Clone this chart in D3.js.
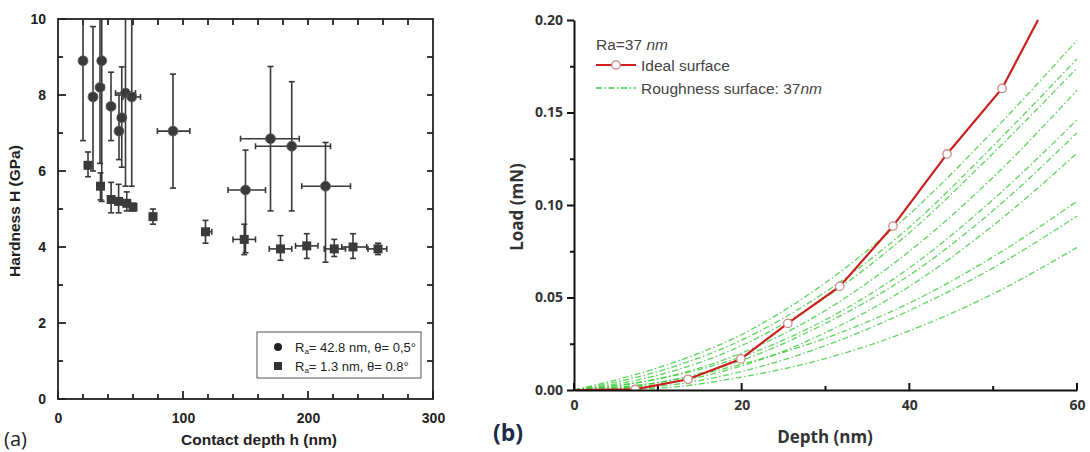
<!DOCTYPE html>
<html lang="en">
<head>
<meta charset="UTF-8">
<title>Hardness and load-depth charts</title>
<script src="https://d3js.org/d3.v7.min.js"></script>
<style>
  body { margin: 0; background: #fff; }
  svg { display: block; }
  .axA text { font-family: "Liberation Sans", Arial, sans-serif; font-weight: bold; font-size: 14px; fill: #222; }
  .axB path, .axB line { stroke: #111; stroke-width: 2; }
  .axB text { font-family: "Open Sans", sans-serif; font-weight: bold; font-size: 14px; fill: #333; }
</style>
</head>
<body>
<svg id="fig" width="1090" height="452"></svg>
<script>
// ---- panel (a): hardness vs contact depth ----
var roughDepth  = [20, 28, 33.6, 35, 42.4, 48.8, 51, 54, 59, 92, 150, 170, 187, 214];
var roughDepthLo = [18, 26, 31, 33, 39.5, 46.8, 48, 46, 52, 79.5, 136, 146, 158, 195];
var roughDepthHi = [22, 30, 37, 37, 45.5, 50.8, 54, 62, 66, 105.5, 166, 193, 218, 234];
var roughH   = [8.9, 7.95, 8.2, 8.9, 7.7, 7.05, 7.4, 8.05, 7.95, 7.05, 5.5, 6.85, 6.65, 5.6];
var roughHLo = [6.8, 6.0, 6.2, 5.2, 6.8, 6.3, 6.1, 5.6, 5.6, 5.55, 3.85, 4.95, 4.95, 3.6];
var roughHHi = [10.5, 9.8, 10.5, 10.5, 8.6, 8.0, 8.74, 10.5, 10.5, 8.55, 6.55, 8.75, 8.35, 6.75];

var smoothDepth  = [24, 34, 42.5, 48.5, 55, 60, 76, 118, 149, 178, 199, 221, 236, 256];
var smoothDepthLo = [22, 32, 40.5, 46.5, 53, 58, 74, 115, 140, 169, 190, 213, 227, 248];
var smoothDepthHi = [26, 36, 44.5, 50.5, 57, 62, 78, 123, 158, 187, 208, 230, 247, 263];
var smoothH   = [6.15, 5.6, 5.25, 5.2, 5.15, 5.05, 4.8, 4.4, 4.2, 3.95, 4.03, 3.95, 4.0, 3.95];
var smoothHLo = [5.85, 5.24, 4.9, 4.9, 4.95, 4.95, 4.6, 4.1, 3.8, 3.65, 3.7, 3.75, 3.7, 3.8];
var smoothHHi = [6.5, 5.95, 5.7, 5.65, 5.45, 5.15, 5.0, 4.7, 4.6, 4.3, 4.35, 4.2, 4.35, 4.1];

var hTicks = [0, 100, 200, 300];
var hMinorTicks = [20, 40, 60, 80, 120, 140, 160, 180, 220, 240, 260, 280];
var HTicks = [0, 2, 4, 6, 8, 10];
var HMinorTicks = [1, 3, 5, 7, 9];

// ---- panel (b): load vs depth ----
var idealDepth = [0, 7.3, 13.6, 19.9, 25.5, 31.7, 38.05, 44.5, 51.06, 55.35];
var idealLoad  = [0, 0.0003, 0.0058, 0.0168, 0.036, 0.056, 0.0886, 0.1276, 0.163, 0.2];

var roughGridDepth = [0, 10, 20, 30, 40, 50, 60];
var roughCurves = [
  [0, 0.012, 0.030, 0.058, 0.095, 0.140, 0.189],
  [0, 0.010, 0.027, 0.053, 0.088, 0.132, 0.179],
  [0, 0.008, 0.024, 0.050, 0.085, 0.128, 0.174],
  [0, 0.006, 0.020, 0.043, 0.075, 0.115, 0.162],
  [0, 0.006, 0.018, 0.038, 0.066, 0.103, 0.146],
  [0, 0.004, 0.016, 0.036, 0.062, 0.097, 0.139],
  [0, 0.003, 0.013, 0.031, 0.056, 0.089, 0.128],
  [0, 0.004, 0.014, 0.028, 0.047, 0.072, 0.102],
  [0, 0.002, 0.010, 0.024, 0.043, 0.066, 0.094],
  [0, 0.001, 0.007, 0.017, 0.032, 0.052, 0.077]
];
var depthTicks = [0, 20, 40, 60];
var depthMinorTicks = [10, 30, 50];
var loadTicks = [0, 0.05, 0.10, 0.15, 0.20];
var loadMinorTicks = [0.025, 0.075, 0.125, 0.175];

var svg = d3.select("#fig");
svg.append("rect").attr("width", 1090).attr("height", 452).attr("fill", "#fff");

// draws short inward tick marks along one side of a plot
function tickMarks(values, scale, side, pos, len, color, width) {
  var horiz = side === "bottom" || side === "top";
  var dir = (side === "bottom" || side === "right") ? -1 : 1;
  svg.append("g").selectAll("line").data(values).enter().append("line")
     .attr("x1", function(d) { return horiz ? scale(d) : pos; })
     .attr("x2", function(d) { return horiz ? scale(d) : pos + dir * len; })
     .attr("y1", function(d) { return horiz ? pos : scale(d); })
     .attr("y2", function(d) { return horiz ? pos + dir * len : scale(d); })
     .attr("stroke", color).attr("stroke-width", width);
}

// ================= panel (a) =================
var xA = d3.scaleLinear().domain([0, 300]).range([58, 433]);
var yA = d3.scaleLinear().domain([0, 10]).range([399, 19]);

svg.append("clipPath").attr("id", "clipA")
   .append("rect").attr("x", 58).attr("y", 19).attr("width", 375).attr("height", 380);

// labels only; tick marks drawn separately
svg.append("g").attr("class", "axA")
   .attr("transform", "translate(0," + yA(0) + ")")
   .call(d3.axisBottom(xA).tickValues(hTicks).tickSize(0).tickPadding(14).tickFormat(d3.format("d")))
   .call(function(g) { g.select(".domain").remove(); });
svg.append("g").attr("class", "axA")
   .attr("transform", "translate(" + xA(0) + ",0)")
   .call(d3.axisLeft(yA).tickValues(HTicks).tickSize(0).tickPadding(12).tickFormat(d3.format("d")))
   .call(function(g) { g.select(".domain").remove(); });

tickMarks(hTicks, xA, "bottom", yA(0), 8, "#222", 1.8);
tickMarks(hMinorTicks, xA, "bottom", yA(0), 5, "#222", 1.8);
tickMarks(hMinorTicks.concat([100, 200]), xA, "top", yA(10), 6, "#222", 1.8);
tickMarks(HTicks, yA, "left", xA(0), 8, "#222", 1.8);
tickMarks(HMinorTicks, yA, "left", xA(0), 5, "#222", 1.8);
tickMarks(HMinorTicks.concat([2, 4, 6, 8]), yA, "right", xA(300), 6, "#222", 1.8);

// frame
svg.append("rect")
   .attr("x", xA(0)).attr("y", yA(10))
   .attr("width", xA(300) - xA(0)).attr("height", yA(0) - yA(10))
   .attr("fill", "none").attr("stroke", "#222").attr("stroke-width", 1.8);

// error bars + markers
var plotA = svg.append("g").attr("clip-path", "url(#clipA)");

function errorBars(g, xs, xlo, xhi, ys, ylo, yhi) {
  var cap = 3;
  xs.forEach(function(d, i) {
    var cx = xA(d), cy = yA(ys[i]);
    var e = g.append("g").attr("stroke", "#383838").attr("stroke-width", 1.6).attr("fill", "none");
    e.append("line").attr("x1", cx).attr("x2", cx).attr("y1", yA(ylo[i])).attr("y2", yA(yhi[i]));
    e.append("line").attr("x1", cx - cap).attr("x2", cx + cap).attr("y1", yA(ylo[i])).attr("y2", yA(ylo[i]));
    e.append("line").attr("x1", cx - cap).attr("x2", cx + cap).attr("y1", yA(yhi[i])).attr("y2", yA(yhi[i]));
    e.append("line").attr("x1", xA(xlo[i])).attr("x2", xA(xhi[i])).attr("y1", cy).attr("y2", cy);
    e.append("line").attr("x1", xA(xlo[i])).attr("x2", xA(xlo[i])).attr("y1", cy - cap).attr("y2", cy + cap);
    e.append("line").attr("x1", xA(xhi[i])).attr("x2", xA(xhi[i])).attr("y1", cy - cap).attr("y2", cy + cap);
  });
}
errorBars(plotA, roughDepth, roughDepthLo, roughDepthHi, roughH, roughHLo, roughHHi);
errorBars(plotA, smoothDepth, smoothDepthLo, smoothDepthHi, smoothH, smoothHLo, smoothHHi);

plotA.selectAll(".circ").data(roughDepth).enter().append("circle")
   .attr("cx", function(d) { return xA(d); })
   .attr("cy", function(d, i) { return yA(roughH[i]); })
   .attr("r", 5).attr("fill", "#3a3a3a").attr("stroke", "#666").attr("stroke-width", 0.8);
plotA.selectAll(".sq").data(smoothDepth).enter().append("rect")
   .attr("x", function(d) { return xA(d) - 4.5; })
   .attr("y", function(d, i) { return yA(smoothH[i]) - 4.5; })
   .attr("width", 9).attr("height", 9).attr("fill", "#3a3a3a");

// legend (a)
var legA = svg.append("g").attr("font-family", "Liberation Sans, Arial, sans-serif").attr("font-size", 13).attr("fill", "#222");
legA.append("rect").attr("x", 257).attr("y", 332).attr("width", 164).attr("height", 46)
    .attr("fill", "#fff").attr("stroke", "#555").attr("stroke-width", 1);
legA.append("circle").attr("cx", 278).attr("cy", 347).attr("r", 4).attr("fill", "#222");
legA.append("rect").attr("x", 274).attr("y", 362).attr("width", 8).attr("height", 8).attr("fill", "#333");
var t1 = legA.append("text").attr("x", 295).attr("y", 352);
t1.append("tspan").text("R");
t1.append("tspan").attr("font-size", 8).attr("dy", 2).text("a");
t1.append("tspan").attr("dy", -2).text("= 42.8 nm, θ= 0,5°");
var t2 = legA.append("text").attr("x", 295).attr("y", 371);
t2.append("tspan").text("R");
t2.append("tspan").attr("font-size", 8).attr("dy", 2).text("a");
t2.append("tspan").attr("dy", -2).text("= 1.3 nm,  θ= 0.8°");

// titles (a)
svg.append("text")
   .attr("transform", "translate(20,211) rotate(-90)")
   .attr("text-anchor", "middle")
   .attr("font-family", "Liberation Sans, Arial, sans-serif").attr("font-weight", "bold").attr("font-size", 15.5)
   .attr("fill", "#222")
   .text("Hardness H (GPa)");
svg.append("text")
   .attr("x", 259).attr("y", 445)
   .attr("text-anchor", "middle")
   .attr("font-family", "Liberation Sans, Arial, sans-serif").attr("font-weight", "bold").attr("font-size", 15.5)
   .attr("fill", "#222")
   .text("Contact depth h (nm)");
svg.append("text")
   .attr("x", 4).attr("y", 446)
   .attr("font-family", "Open Sans, sans-serif").attr("font-size", 20)
   .attr("fill", "#222")
   .text("(a)");

// ================= panel (b) =================
var xB = d3.scaleLinear().domain([0, 60]).range([574, 1077]);
var yB = d3.scaleLinear().domain([0, 0.2]).range([390, 20]);

svg.append("clipPath").attr("id", "clipB")
   .append("rect").attr("x", 574).attr("y", 14).attr("width", 504).attr("height", 377);

var plotB = svg.append("g").attr("clip-path", "url(#clipB)");

var lineB = d3.line()
   .x(function(d) { return xB(d[0]); })
   .y(function(d) { return yB(d[1]); });

roughCurves.forEach(function(c) {
  plotB.append("path")
     .datum(c.map(function(v, i) { return [roughGridDepth[i], v]; }))
     .attr("d", lineB.curve(d3.curveMonotoneX))
     .attr("fill", "none")
     .attr("stroke", "#3fcf3f")
     .attr("stroke-width", 1.3)
     .attr("stroke-opacity", 0.85)
     .attr("stroke-dasharray", "6,2.5,1.5,2.5");
});

var idealPts = idealDepth.map(function(d, i) { return [d, idealLoad[i]]; });
plotB.append("path")
   .datum(idealPts)
   .attr("d", lineB.curve(d3.curveLinear))
   .attr("fill", "none")
   .attr("stroke", "#cc1f1f")
   .attr("stroke-width", 2.2);
plotB.selectAll(".mk").data(idealPts.slice(1, -1)).enter().append("circle")
   .attr("cx", function(d) { return xB(d[0]); })
   .attr("cy", function(d) { return yB(d[1]); })
   .attr("r", 4.2)
   .attr("fill", "#fff")
   .attr("stroke", "#d08a8a")
   .attr("stroke-width", 1.3);

// axes (b): x ticks point up into the plot, y ticks point out
svg.append("g").attr("class", "axB")
   .attr("transform", "translate(0," + yB(0) + ")")
   .call(d3.axisBottom(xB).tickValues(depthTicks).tickSize(0).tickPadding(10).tickFormat(d3.format("d")));
tickMarks(depthTicks, xB, "bottom", yB(0), 7, "#111", 2);
tickMarks(depthMinorTicks, xB, "bottom", yB(0), 4, "#111", 2);
svg.append("g").attr("class", "axB")
   .attr("transform", "translate(" + xB(0) + ",0)")
   .call(d3.axisLeft(yB).tickValues(loadTicks).tickSize(7).tickPadding(4).tickSizeOuter(0).tickFormat(d3.format(".2f")));
svg.append("g").attr("class", "axB")
   .attr("transform", "translate(" + xB(0) + ",0)")
   .call(d3.axisLeft(yB).tickValues(loadMinorTicks).tickSize(4).tickFormat(""))
   .call(function(g) { g.select(".domain").remove(); });

// legend (b)
var legB = svg.append("g").attr("font-family", "Liberation Sans, Arial, sans-serif").attr("font-size", 15.5).attr("fill", "#444");
var r1 = legB.append("text").attr("x", 596).attr("y", 50);
r1.append("tspan").text("Ra=37 ");
r1.append("tspan").attr("font-style", "italic").text("nm");
legB.append("line").attr("x1", 596).attr("x2", 636).attr("y1", 65).attr("y2", 65)
    .attr("stroke", "#cc1f1f").attr("stroke-width", 2.2);
legB.append("circle").attr("cx", 616).attr("cy", 65).attr("r", 4.2)
    .attr("fill", "#fff").attr("stroke", "#d08a8a").attr("stroke-width", 1.3);
legB.append("text").attr("x", 641).attr("y", 71).text("Ideal surface");
legB.append("line").attr("x1", 596).attr("x2", 636).attr("y1", 88).attr("y2", 88)
    .attr("stroke", "#3fcf3f").attr("stroke-width", 1.3).attr("stroke-dasharray", "6,2.5,1.5,2.5");
var r2 = legB.append("text").attr("x", 641).attr("y", 94);
r2.append("tspan").text("Roughness surface: 37");
r2.append("tspan").attr("font-style", "italic").text("nm");

// titles (b)
svg.append("text")
   .attr("transform", "translate(523,207) rotate(-90)")
   .attr("text-anchor", "middle")
   .attr("font-family", "Open Sans, sans-serif").attr("font-weight", "bold").attr("font-size", 17)
   .attr("fill", "#333")
   .text("Load (mN)");
svg.append("text")
   .attr("x", 825).attr("y", 443)
   .attr("text-anchor", "middle")
   .attr("font-family", "Open Sans, sans-serif").attr("font-weight", "bold").attr("font-size", 17)
   .attr("fill", "#333")
   .text("Depth (nm)");
svg.append("text")
   .attr("x", 493).attr("y", 441)
   .attr("font-family", "Open Sans, sans-serif").attr("font-weight", "bold").attr("font-size", 23)
   .attr("fill", "#1d2a48")
   .text("(b)");
</script>
</body>
</html>
